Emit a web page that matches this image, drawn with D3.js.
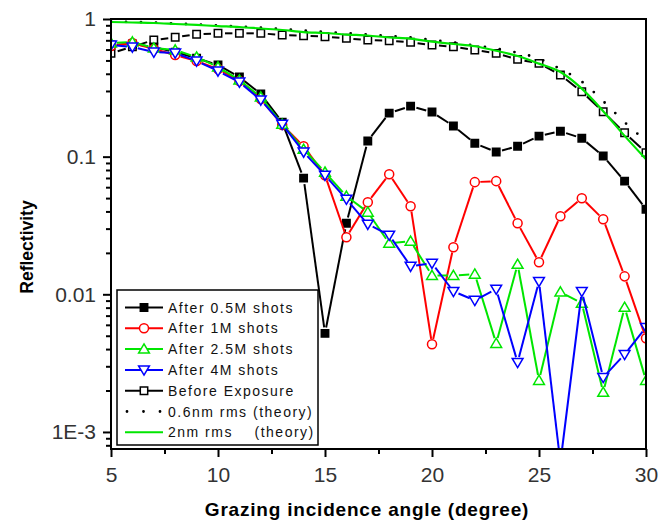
<!DOCTYPE html>
<html>
<head>
<meta charset="utf-8">
<script src="https://cdn.jsdelivr.net/npm/d3@7"></script>
<style>
  body { margin: 0; background: #fff; }
  svg text { font-family: "Liberation Sans", Arial, sans-serif; }
</style>
</head>
<body>
<svg id="chart" width="670" height="527"></svg>
<script>
// grazing angles (degree)
const angles = [5, 6, 7, 8, 9, 10, 11, 12, 13, 14, 15, 16, 17, 18, 19, 20, 21, 22, 23, 24, 25, 26, 27, 28, 29, 30];

// reflectivity
const after05M = [0.647, 0.658, 0.626, 0.575, 0.520, 0.463, 0.379, 0.285, 0.178, 0.0698, 0.0052, 0.0328, 0.130,
  0.207, 0.233, 0.211, 0.167, 0.125, 0.108, 0.119, 0.141, 0.153, 0.136, 0.101, 0.0664, 0.0415];
const after1M = [0.636, 0.669, 0.605, 0.547, 0.495, 0.433, 0.354, 0.262, 0.170, 0.119, 0.0733, 0.0260, 0.0467,
  0.0746, 0.0436, 0.00433, 0.0220, 0.0653, 0.0664, 0.0328, 0.0171, 0.0369, 0.0499, 0.0351, 0.0135, 0.00479];
const after25M = [0.669, 0.680, 0.615, 0.595, 0.529, 0.448, 0.360, 0.271, 0.172, 0.113, 0.0771, 0.0516, 0.0395,
  0.0235, 0.0243, 0.0137, 0.0137, 0.0140, 0.00440, 0.0165, 0.00237, 0.0104, 0.00861, 0.00194, 0.00804, 0.00237];
const after4M = [0.647, 0.626, 0.575, 0.566, 0.495, 0.419, 0.348, 0.258, 0.172, 0.108, 0.0733, 0.0491, 0.0323,
  0.0269, 0.0160, 0.0168, 0.0105, 0.00904, 0.0109, 0.0032, 0.0124, 0.0006, 0.0105, 0.00249, 0.00366, 0.00575];
const beforeExposure = [0.563, 0.629, 0.703, 0.736, 0.774, 0.787, 0.787, 0.787, 0.765, 0.756, 0.744, 0.724, 0.703,
  0.695, 0.677, 0.647, 0.629, 0.595, 0.563, 0.509, 0.476, 0.392, 0.296, 0.212, 0.149, 0.107];
const theory06nm = [0.959, 0.951, 0.943, 0.927, 0.912, 0.897, 0.882, 0.867, 0.846, 0.825, 0.804, 0.791, 0.771,
  0.752, 0.734, 0.703, 0.675, 0.642, 0.610, 0.568, 0.516, 0.433, 0.351, 0.253, 0.178, 0.130];
const theory2nm = [0.951, 0.943, 0.935, 0.920, 0.905, 0.889, 0.875, 0.853, 0.832, 0.804, 0.791, 0.771, 0.759,
  0.734, 0.721, 0.684, 0.658, 0.634, 0.588, 0.538, 0.474, 0.412, 0.312, 0.214, 0.1416, 0.0959];

const seriesNames = ["After 0.5M shots", "After 1M shots", "After 2.5M shots", "After 4M shots",
  "Before Exposure", "0.6nm rms (theory)", "2nm rms    (theory)"];

const xTicks = [5, 10, 15, 20, 25, 30];
const xMinorTicks = [7.5, 12.5, 17.5, 22.5, 27.5];
const yTicks = [1, 0.1, 0.01, 0.001];
const yTickLabels = ["1", "0.1", "0.01", "1E-3"];

const svg = d3.select("#chart");
const plotLeft = 111, plotRight = 646, plotTop = 19, plotBottom = 449;

const x = d3.scaleLinear().domain([5, 30]).range([plotLeft, plotRight]);
const y = d3.scaleLog().domain([0.000752, 1]).range([plotBottom, plotTop]);

// style of each series, same order as seriesNames
const styles = [
  { data: after05M, color: "#000", symbol: "square", fill: "#000", gap: 6 },
  { data: after1M, color: "#ff0000", symbol: "circle", fill: "#fff", gap: 5.5 },
  { data: after25M, color: "#00e600", symbol: "up", fill: "#fff", gap: 5.5 },
  { data: after4M, color: "#0000ff", symbol: "down", fill: "#fff", gap: 5.5 },
  { data: beforeExposure, color: "#000", symbol: "square", fill: "#fff", gap: 7 },
  { data: theory06nm, color: "#000", dotted: true },
  { data: theory2nm, color: "#00e600", smooth: true }
];

svg.append("defs").append("clipPath").attr("id", "plotclip")
  .append("rect").attr("x", plotLeft).attr("y", plotTop)
  .attr("width", plotRight - plotLeft).attr("height", plotBottom - plotTop);

const plot = svg.append("g").attr("clip-path", "url(#plotclip)");

function symbolPath(type) {
  if (type === "square") return "M-3.7,-3.7H3.7V3.7H-3.7Z";
  if (type === "circle") return d3.symbol(d3.symbolCircle, 64)();
  if (type === "up") return "M0,-5.2L5.4,4L-5.4,4Z";
  if (type === "down") return "M0,5.2L5.4,-4L-5.4,-4Z";
}

// draw order: measured first, theory on top
const order = [4, 0, 1, 2, 3, 5, 6];
order.forEach(i => {
  const s = styles[i];
  const pts = angles.map((a, k) => [x(a), y(s.data[k])]);
  if (s.dotted || s.smooth) {
    const line = d3.line().curve(d3.curveMonotoneX);
    plot.append("path")
      .attr("d", line(pts))
      .attr("fill", "none")
      .attr("stroke", s.color)
      .attr("stroke-width", s.dotted ? 2.8 : 2.2)
      .attr("stroke-linecap", s.dotted ? "round" : "butt")
      .attr("stroke-dasharray", s.dotted ? "0,15" : null);
    return;
  }
  // segments with a small gap round each symbol
  for (let k = 0; k < pts.length - 1; k++) {
    const [x1, y1] = pts[k], [x2, y2] = pts[k + 1];
    const len = Math.hypot(x2 - x1, y2 - y1);
    if (len <= 2 * s.gap) continue;
    const ux = (x2 - x1) / len, uy = (y2 - y1) / len;
    plot.append("line")
      .attr("x1", x1 + ux * s.gap).attr("y1", y1 + uy * s.gap)
      .attr("x2", x2 - ux * s.gap).attr("y2", y2 - uy * s.gap)
      .attr("stroke", s.color).attr("stroke-width", 2);
  }
  plot.selectAll(null).data(pts).enter().append("path")
    .attr("transform", d => `translate(${d[0]},${d[1]})`)
    .attr("d", symbolPath(s.symbol))
    .attr("fill", s.fill)
    .attr("stroke", s.color)
    .attr("stroke-width", 1.5);
});

// frame
svg.append("rect")
  .attr("x", plotLeft).attr("y", plotTop)
  .attr("width", plotRight - plotLeft).attr("height", plotBottom - plotTop)
  .attr("fill", "none").attr("stroke", "#000").attr("stroke-width", 2);

// x axis
const xAxis = svg.append("g").attr("transform", `translate(0,${plotBottom})`)
  .call(d3.axisBottom(x).tickValues(xTicks).tickSize(8).tickPadding(10).tickFormat(d3.format("d")));
xAxis.append("g").call(d3.axisBottom(x).tickValues(xMinorTicks).tickSize(5).tickFormat(""));
xAxis.selectAll(".domain").remove();
xAxis.selectAll("line").attr("stroke", "#000").attr("stroke-width", 2);
xAxis.selectAll("text").attr("font-size", 21).attr("fill", "#333");

// y axis
const yMinor = [];
[0.0001, 0.001, 0.01, 0.1].forEach(dec => {
  for (let m = 2; m <= 9; m++) {
    const v = dec * m;
    if (v >= y.domain()[0] && v < 1) yMinor.push(v);
  }
});
const yAxis = svg.append("g").attr("transform", `translate(${plotLeft},0)`)
  .call(d3.axisLeft(y).tickValues(yTicks).tickSize(8).tickPadding(7)
    .tickFormat((d, i) => yTickLabels[i]));
yAxis.append("g").call(d3.axisLeft(y).tickValues(yMinor).tickSize(5).tickFormat(""));
yAxis.selectAll(".domain").remove();
yAxis.selectAll("line").attr("stroke", "#000").attr("stroke-width", 2);
yAxis.selectAll("text").attr("font-size", 21).attr("fill", "#333");

// axis titles
svg.append("text")
  .attr("x", 367).attr("y", 516)
  .attr("text-anchor", "middle")
  .attr("font-size", 19).attr("font-weight", "bold")
  .attr("letter-spacing", 0.8)
  .text("Grazing incidence angle (degree)");

svg.append("text")
  .attr("transform", "translate(33,247) rotate(-90)")
  .attr("text-anchor", "middle")
  .attr("font-size", 17.5).attr("font-weight", "bold")
  .text("Reflectivity");

// legend
const legend = svg.append("g");
legend.append("rect")
  .attr("x", 117).attr("y", 290).attr("width", 201).attr("height", 155)
  .attr("fill", "#fff").attr("stroke", "#000").attr("stroke-width", 1.5);

seriesNames.forEach((name, i) => {
  const s = styles[i];
  const ry = 307.5 + i * 20.8;
  const row = legend.append("g");
  row.append("line")
    .attr("x1", s.dotted ? 127 : 125).attr("x2", s.dotted ? 161 : 163)
    .attr("y1", ry).attr("y2", ry)
    .attr("stroke", s.color)
    .attr("stroke-width", s.dotted ? 2.8 : 2)
    .attr("stroke-linecap", s.dotted ? "round" : "butt")
    .attr("stroke-dasharray", s.dotted ? "0,16.5" : null);
  if (s.symbol) {
    row.append("path")
      .attr("transform", `translate(144,${ry})`)
      .attr("d", symbolPath(s.symbol))
      .attr("fill", s.fill).attr("stroke", s.color).attr("stroke-width", 1.5);
  }
  row.append("text")
    .attr("x", 168).attr("y", ry + 5)
    .attr("font-size", 14)
    .attr("letter-spacing", 1.5)
    .style("white-space", "pre")
    .attr("fill", "#111")
    .text(name);
});
</script>
</body>
</html>
